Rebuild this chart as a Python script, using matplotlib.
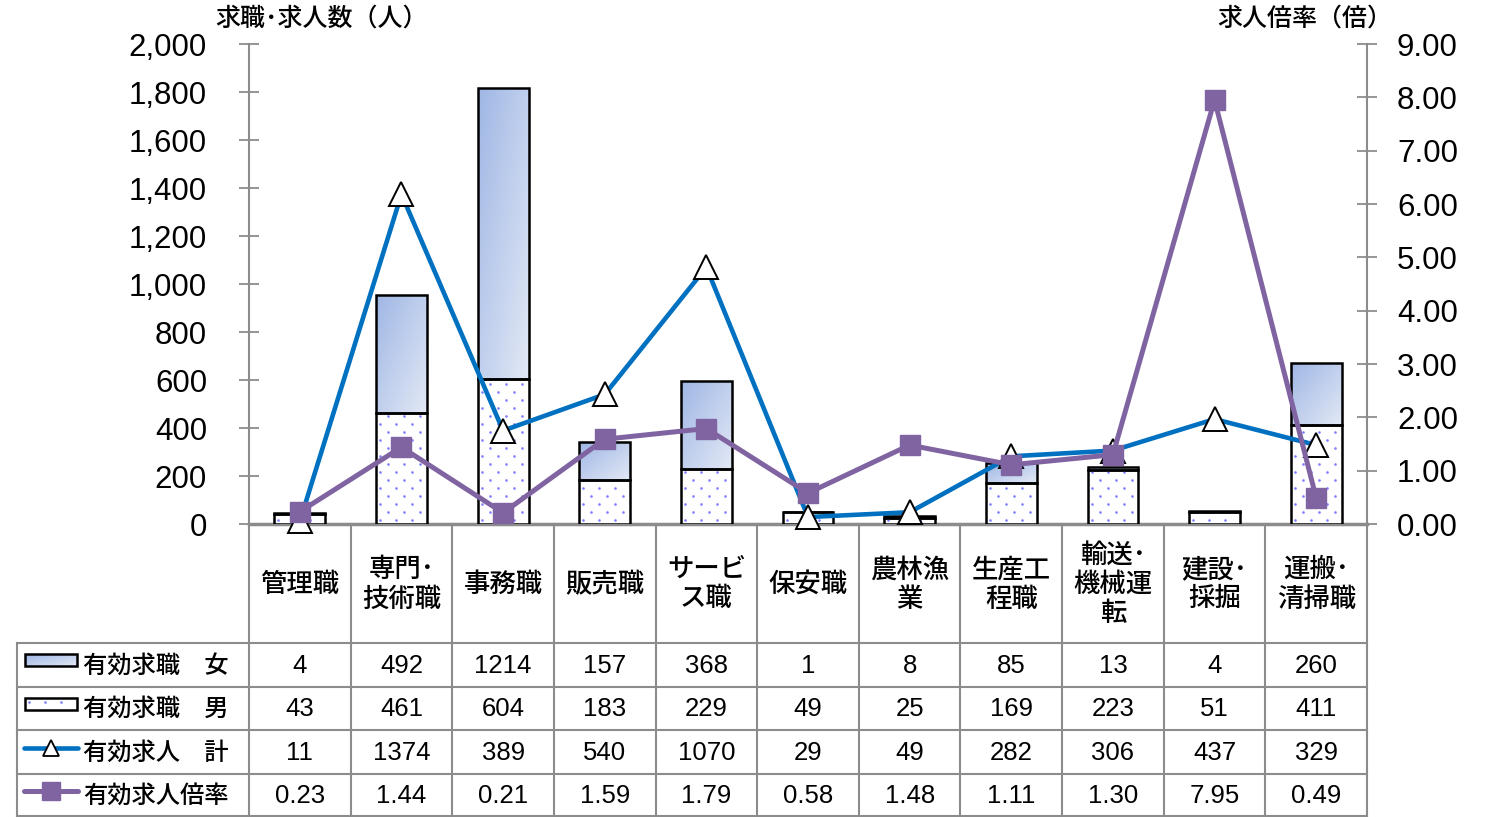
import matplotlib
matplotlib.use('Agg')
import matplotlib.pyplot as plt
import numpy as np
from matplotlib.patches import Rectangle
from matplotlib.colors import LinearSegmentedColormap
from matplotlib.ticker import MultipleLocator, FuncFormatter

plt.rcParams['font.family'] = ['Liberation Sans', 'Noto Sans CJK JP']

# Data: job seekers / openings by occupation
categories = ['管理職', '専門･\n技術職', '事務職', '販売職', 'サービ\nス職', '保安職',
              '農林漁\n業', '生産工\n程職', '輸送･\n機械運\n転', '建設･\n採掘', '運搬･\n清掃職']
seekers_female = [4, 492, 1214, 157, 368, 1, 8, 85, 13, 4, 260]
seekers_male = [43, 461, 604, 183, 229, 49, 25, 169, 223, 51, 411]
openings_total = [11, 1374, 389, 540, 1070, 29, 49, 282, 306, 437, 329]
openings_ratio = [0.23, 1.44, 0.21, 1.59, 1.79, 0.58, 1.48, 1.11, 1.30, 7.95, 0.49]
series_names = ['有効求職　女', '有効求職　男', '有効求人　計', '有効求人倍率']

BLUE = '#0070C0'
PURPLE = '#8064A2'
GRID = '#8c8c8c'
DOTS = '#8080ff'
grad_cmap = LinearSegmentedColormap.from_list('grad', ['#9fb7e5', '#e2e8f5'])

# figure is laid out in pixels
W, H = 1491, 817
L, R, T, B = 249, 1367, 44, 524
fig = plt.figure(figsize=(W / 100, H / 100), dpi=100)

# table axes in pixel coords
tax = fig.add_axes([0, 0, 1, 1])
tax.set_xlim(0, W)
tax.set_ylim(H, 0)
tax.axis('off')

ax = fig.add_axes([L / W, 1 - B / H, (R - L) / W, (B - T) / H])
x = np.arange(len(categories))
YMAX = 2000
px_x = len(categories) / (R - L)   # data units per pixel
px_y = YMAX / (B - T)


def gradient_fill(axis, patch, x0, x1, y0, y1, z):
    g = np.add.outer(np.linspace(0, 1, 50), np.linspace(0, 1, 50)) / 2
    im = axis.imshow(g, cmap=grad_cmap, extent=[x0, x1, y0, y1], origin='upper',
                     aspect='auto', zorder=z, interpolation='bilinear')
    im.set_clip_path(patch)


def dot_fill(axis, patch, x0, x1, y0, y1, sx, sy, z):
    # staggered dot texture inside a rectangle
    pts = []
    for k, yy in enumerate(np.arange(y0 + sy / 2, y1, sy)):
        off = sx / 2 if k % 2 else 0
        for xx in np.arange(x0 + sx / 4 + off, x1, sx):
            pts.append((xx, yy))
    if pts:
        pts = np.array(pts)
        sc = axis.scatter(pts[:, 0], pts[:, 1], s=3.6, color=DOTS, lw=0, zorder=z)
        sc.set_clip_path(patch)


# male: dotted bars
mbars = ax.bar(x, seekers_male, 0.5, color='white', edgecolor='black', lw=1.8, zorder=3)
for p in mbars:
    bx, by = p.get_x(), p.get_y()
    dot_fill(ax, p, bx, bx + p.get_width(), by, by + p.get_height(),
             16 * px_x, 8 * px_y, 3.1)
# female: gradient bars stacked on top
fbars = ax.bar(x, seekers_female, 0.5, bottom=seekers_male, color='none',
               edgecolor='black', lw=1.8, zorder=3.2)
for p in fbars:
    bx, by = p.get_x(), p.get_y()
    gradient_fill(ax, p, bx, bx + p.get_width(), by, by + p.get_height(), 2.5)

ax.plot(x, openings_total, color=BLUE, lw=3.3, marker='^', ms=17, mfc='white',
        mec='black', mew=1.4, zorder=4, clip_on=False)

ax.set_xlim(-0.5, len(categories) - 0.5)
ax.set_ylim(0, YMAX)
ax.set_xticks([])
ax.yaxis.set_major_locator(MultipleLocator(200))
ax.yaxis.set_major_formatter(FuncFormatter(lambda v, _: f'{v:,.0f}'))
ax.tick_params(axis='y', direction='inout', length=14.4, width=1.3, color=GRID,
               labelsize=22.5, pad=23)
for s in ['top', 'right']:
    ax.spines[s].set_visible(False)
ax.spines['left'].set_color(GRID)
ax.spines['left'].set_linewidth(1.5)
ax.spines['bottom'].set_color(GRID)
ax.spines['bottom'].set_linewidth(2.5)
ax.patch.set_visible(False)

ax2 = ax.twinx()
ax2.plot(x, openings_ratio, color=PURPLE, lw=3.6, marker='s', ms=14.5,
         mfc=PURPLE, mec=PURPLE, zorder=5, clip_on=False)
ax2.set_ylim(0, 9)
ax2.yaxis.set_major_locator(MultipleLocator(1))
ax2.yaxis.set_major_formatter(FuncFormatter(lambda v, _: f'{v:.2f}'))
ax2.tick_params(axis='y', direction='inout', length=14.4, width=1.3, color=GRID,
                labelsize=22.5, pad=14.4)
for s in ['top', 'left', 'bottom']:
    ax2.spines[s].set_visible(False)
ax2.spines['right'].set_color(GRID)
ax2.spines['right'].set_linewidth(1.5)

fig.text(321 / W, 1 - 19 / H, '求職･求人数（人）', ha='center', va='center',
         fontsize=18, fontweight='medium')
fig.text(1305 / W, 1 - 19 / H, '求人倍率（倍）', ha='center', va='center',
         fontsize=18, fontweight='medium')

# data table under the chart
col_w = (R - L) / len(categories)
rows = [524, 643, 687, 730, 774, 816]
x_lab = 17
for i in range(len(categories) + 1):
    tax.plot([L + i * col_w] * 2, [rows[0], rows[-1]], color=GRID, lw=1.5)
tax.plot([x_lab, x_lab], [rows[1], rows[-1]], color=GRID, lw=1.5)
for yy in rows[1:]:
    tax.plot([x_lab, R], [yy, yy], color=GRID, lw=1.5)

for i, c in enumerate(categories):
    tax.text(L + (i + 0.5) * col_w, (rows[0] + rows[1]) / 2 + 1, c, ha='center',
             va='center', fontsize=19, linespacing=1.25, fontweight='medium')

table_rows = [
    [str(v) for v in seekers_female],
    [str(v) for v in seekers_male],
    [str(v) for v in openings_total],
    [f'{v:.2f}' for v in openings_ratio],
]
for r, vals in enumerate(table_rows):
    cy = (rows[r + 1] + rows[r + 2]) / 2
    for i, v in enumerate(vals):
        tax.text(L + (i + 0.5) * col_w, cy + 1, v, ha='center', va='center', fontsize=18.5)
    tax.text(83, cy + 1, series_names[r], ha='left', va='center', fontsize=17.5,
             fontweight='medium')

# legend keys in the first column
cy = [(rows[r + 1] + rows[r + 2]) / 2 for r in range(4)]
sw = Rectangle((25, cy[0] - 11), 52, 12, facecolor='none', edgecolor='black', lw=1.8, zorder=3)
tax.add_patch(sw)
gradient_fill(tax, sw, 25, 77, cy[0] + 1, cy[0] - 11, 2)
sw2 = Rectangle((25, cy[1] - 11), 52, 12, facecolor='white', edgecolor='black',
                lw=1.8, zorder=2)
tax.add_patch(sw2)
dot_fill(tax, sw2, 25, 77, cy[1] - 11, cy[1] + 1, 16, 8, 2.5)
tax.plot([24, 78], [cy[2] - 4] * 2, color=BLUE, lw=3.3, solid_capstyle='round')
tax.plot([51], [cy[2] - 4], marker='^', ms=12, mfc='white', mec='black', mew=1.3)
tax.plot([24, 78], [cy[3] - 4] * 2, color=PURPLE, lw=3.6, solid_capstyle='round')
tax.plot([51], [cy[3] - 4], marker='s', ms=12.5, mfc=PURPLE, mec=PURPLE)

tax.set_xlim(0, W)
tax.set_ylim(H, 0)

fig.savefig('out.png', dpi=100)
